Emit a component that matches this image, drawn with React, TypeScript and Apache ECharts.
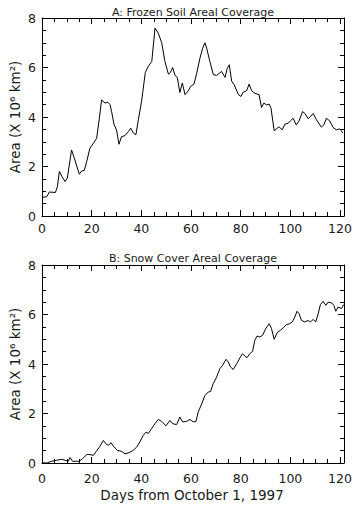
import React, { useEffect, useRef } from "react";
import * as echarts from "echarts";

const frozenDays = [0, 1.9, 3, 5.4, 6.2, 7, 8, 9.3, 10.2, 11.9, 13, 15, 16, 17, 18, 19.3, 20.7, 22, 23.1, 24, 25.4, 26.5, 27.4, 28, 29, 30, 31, 32, 33.4, 34.8, 35.7, 36.8, 37.8, 38.8, 40.1, 40.6, 41.6, 42.8, 44.2, 45.5, 46.8, 48.2, 49.5, 50.9, 51.8, 52.6, 53.6, 54.5, 55.5, 56.5, 57.6, 58.9, 59.8, 61.2, 62.3, 63.6, 64.7, 65.6, 66.3, 67.6, 69, 70.3, 71.4, 72.3, 73.7, 74.6, 75.4, 76.4, 77.4, 79.1, 80.1, 81, 82.4, 83.4, 84.4, 85.7, 87.4, 88.4, 89.3, 90.4, 91.5, 92.2, 93.5, 94.7, 95.5, 96.7, 97.8, 99.1, 100, 101.1, 102.4, 103.5, 104.9, 105.8, 107.2, 108.1, 109.2, 110.5, 112.5, 113.5, 114.5, 115.9, 117.2, 118.5, 119.9, 121.2];
const frozenArea = [0.75, 0.78, 0.97, 0.95, 1.19, 1.8, 1.6, 1.39, 1.53, 2.67, 2.34, 1.69, 1.82, 1.84, 2.2, 2.74, 2.94, 3.14, 3.95, 4.69, 4.56, 4.6, 4.5, 4.23, 3.7, 3.48, 2.9, 3.2, 3.25, 3.41, 3.55, 3.35, 3.28, 3.89, 4.63, 5.03, 5.8, 6.05, 6.24, 7.59, 7.39, 7.0, 6.24, 5.73, 5.81, 6.0, 5.67, 5.6, 4.99, 5.37, 4.9, 5.06, 5.23, 5.33, 5.77, 6.38, 6.78, 7.0, 6.78, 6.24, 5.71, 5.68, 5.77, 5.84, 5.6, 5.97, 6.11, 5.44, 5.3, 4.9, 4.83, 5.0, 5.06, 5.33, 5.06, 4.96, 4.9, 4.38, 4.56, 4.49, 4.52, 4.36, 3.44, 3.55, 3.6, 3.48, 3.71, 3.75, 3.84, 3.95, 3.68, 3.84, 4.22, 4.15, 3.93, 4.02, 4.14, 3.89, 3.59, 3.68, 3.95, 3.84, 3.58, 3.48, 3.52, 3.35];

const snowDays = [0, 1.9, 3.9, 5.9, 7.9, 9.3, 10.6, 11.3, 12.3, 14, 15, 16.4, 18, 19.3, 20.7, 21.7, 23.1, 24.7, 25.7, 26.7, 27.8, 28.7, 30.3, 32.1, 33.4, 35.1, 36.7, 38.1, 39.4, 40.8, 41.9, 42.8, 44.1, 45.5, 46.8, 48.2, 49.9, 51.5, 52.6, 54.2, 55.5, 56.6, 58.2, 59.6, 60.9, 62, 62.9, 64.3, 65.6, 66.9, 67.9, 68.9, 70.3, 71.6, 72.7, 74.1, 75, 75.9, 77, 78.4, 79.7, 80.7, 81.7, 82.6, 83.7, 84.8, 85.7, 86.6, 87.7, 88.8, 90.1, 91.5, 92.4, 93.5, 94.7, 96, 97.1, 98.4, 99.8, 100.9, 101.8, 102.7, 103.5, 104.5, 105.8, 107.2, 108.1, 109.2, 110.2, 111.2, 112.1, 113.2, 114.3, 115.2, 116.6, 117.5, 118.3, 119.2, 120.6, 121.5];
const snowArea = [0.01, 0.0, 0.07, 0.11, 0.15, 0.11, 0.07, 0.22, 0.07, 0.07, 0.07, 0.18, 0.34, 0.34, 0.31, 0.45, 0.64, 0.91, 0.78, 0.71, 0.82, 0.69, 0.51, 0.47, 0.37, 0.42, 0.51, 0.64, 0.85, 1.12, 1.25, 1.19, 1.39, 1.59, 1.76, 1.68, 1.5, 1.72, 1.59, 1.55, 1.86, 1.66, 1.68, 1.76, 1.66, 1.68, 2.06, 2.39, 2.73, 2.86, 2.89, 3.2, 3.47, 3.81, 3.94, 4.19, 4.08, 3.88, 3.78, 4.01, 4.25, 4.42, 4.32, 4.26, 4.42, 4.51, 4.96, 5.13, 5.09, 5.16, 5.43, 5.63, 5.43, 5.0, 5.27, 5.36, 5.46, 5.59, 5.63, 5.72, 5.9, 6.13, 6.03, 5.76, 5.7, 5.76, 5.7, 5.8, 5.7, 6.03, 6.4, 6.53, 6.37, 6.5, 6.47, 6.37, 6.13, 6.3, 6.24, 6.4];

const panelTitles = ["A: Frozen Soil Areal Coverage", "B: Snow Cover Areal Coverage"];
const yTitle = "Area (X 10\u2076 km\u00B2)";
const xTitle = "Days from October 1, 1997";
const xTickLabels = [0, 20, 40, 60, 80, 100, 120];

const FONT = "DejaVu Sans";
const INK = "#000";
const TEXT = "#1a1a1a";

export default function App() {
  const ref = useRef<HTMLDivElement>(null);

  useEffect(() => {
    if (!ref.current) return;
    const chart = echarts.init(ref.current, undefined, { renderer: "svg" });

    const grids = [
      { left: 42, top: 18, width: 302, height: 198 },
      { left: 42, top: 265, width: 302, height: 198 },
    ];

    const mkX = (gridIndex: number, position: string, show: boolean, margin: number) => ({
      type: "value",
      gridIndex,
      position,
      min: 0,
      max: 121.6,
      interval: 20,
      axisLine: { show: true, onZero: false, lineStyle: { color: INK, width: 1 } },
      axisTick: { show: true, inside: true, length: 6, lineStyle: { color: INK, width: 1 } },
      minorTick: { show: true, splitNumber: 4, length: 4, lineStyle: { color: INK, width: 1 } },
      splitLine: { show: false },
      minorSplitLine: { show: false },
      axisLabel: {
        show,
        margin,
        fontSize: 12.5,
        fontFamily: FONT,
        color: TEXT,
        showMaxLabel: false,
        formatter: (v: number) => (xTickLabels.includes(v) ? String(v) : ""),
      },
    });

    const mkY = (gridIndex: number, position: string, show: boolean) => ({
      type: "value",
      gridIndex,
      position,
      min: 0,
      max: 8,
      interval: 2,
      axisLine: { show: true, onZero: false, lineStyle: { color: INK, width: 1 } },
      axisTick: { show: true, inside: true, length: 6, lineStyle: { color: INK, width: 1 } },
      minorTick: { show: true, splitNumber: 4, length: 4, lineStyle: { color: INK, width: 1 } },
      splitLine: { show: false },
      minorSplitLine: { show: false },
      axisLabel: { show, margin: 6, fontSize: 12.5, fontFamily: FONT, color: TEXT },
    });

    const pairs = (xs: number[], ys: number[]) => xs.map((x, i) => [x, ys[i]]);

    const text = (t: string, x: number, y: number, size: number, rotation = 0) => ({
      type: "text",
      x,
      y,
      rotation,
      style: {
        text: t,
        fill: TEXT,
        font: `${size}px "${FONT}"`,
        align: "center",
        verticalAlign: "middle",
      },
    });

    chart.setOption({
      animation: false,
      backgroundColor: "#fff",
      grid: grids.map((g) => ({ ...g, containLabel: false, outerBoundsMode: "none" })),
      xAxis: [mkX(0, "bottom", true, 6), mkX(0, "top", false, 6), mkX(1, "bottom", true, 9), mkX(1, "top", false, 6)],
      yAxis: [mkY(0, "left", true), mkY(0, "right", false), mkY(1, "left", true), mkY(1, "right", false)],
      series: [
        {
          type: "line",
          xAxisIndex: 0,
          yAxisIndex: 0,
          data: pairs(frozenDays, frozenArea),
          showSymbol: false,
          symbol: "none",
          lineStyle: { color: INK, width: 1 },
        },
        {
          type: "line",
          xAxisIndex: 2,
          yAxisIndex: 2,
          data: pairs(snowDays, snowArea),
          showSymbol: false,
          symbol: "none",
          lineStyle: { color: INK, width: 1 },
        },
      ],
      graphic: [
        text(panelTitles[0], 193, 12, 11),
        text(panelTitles[1], 193, 258, 11),
        text(yTitle, 15, 117, 13.5, Math.PI / 2),
        text(yTitle, 15, 364, 13.5, Math.PI / 2),
        text(xTitle, 192, 495, 13.5),
      ],
    });

    return () => chart.dispose();
  }, []);

  return (
    <div
      ref={ref}
      style={{ position: "fixed", left: 0, top: 0, width: 360, height: 506, background: "#fff" }}
    />
  );
}
